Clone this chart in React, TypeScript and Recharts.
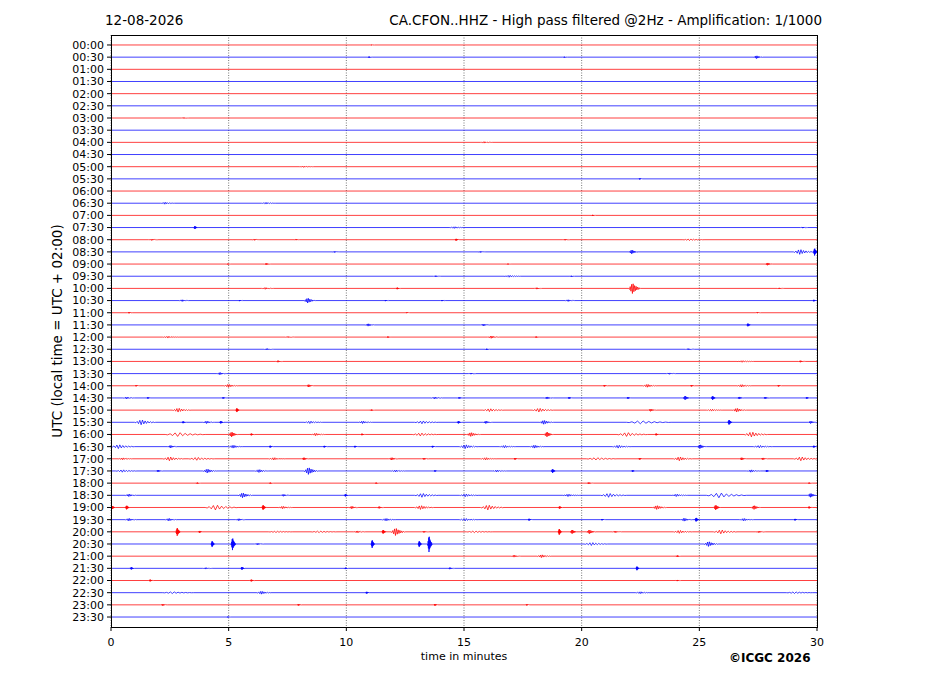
import React from 'react';
import { LineChart, Line, XAxis, YAxis, CartesianGrid } from 'recharts';

// half-hour rows of the helicorder, top to bottom
const ROW_LABELS = [
  '00:00', '00:30', '01:00', '01:30', '02:00', '02:30', '03:00', '03:30',
  '04:00', '04:30', '05:00', '05:30', '06:00', '06:30', '07:00', '07:30',
  '08:00', '08:30', '09:00', '09:30', '10:00', '10:30', '11:00', '11:30',
  '12:00', '12:30', '13:00', '13:30', '14:00', '14:30', '15:00', '15:30',
  '16:00', '16:30', '17:00', '17:30', '18:00', '18:30', '19:00', '19:30',
  '20:00', '20:30', '21:00', '21:30', '22:00', '22:30', '23:00', '23:30',
];

const MINUTE_TICKS = [0, 5, 10, 15, 20, 25, 30];

const TRACE_COLORS = ['#ff0000', '#0000ff'];

// wiggle drawn for every burst (sharp onset, slow decay), scaled by its amplitude
const WIGGLE = [0, 0.2, -0.35, 0.55, -0.8, 1, -0.9, 0.65, -0.55, 0.45, -0.4, 0.3, -0.25, 0.2, -0.15, 0.1, 0];

// bursts per row: [start minute, end minute, amplitude in row heights]
const BURSTS: number[][][] = [
  [[11.0, 11.2, 0.03]],
  [[10.9, 11.1, 0.05], [19.2, 19.4, 0.04], [27.3, 27.7, 0.12]],
  [],
  [],
  [],
  [],
  [[3.0, 3.3, 0.04]],
  [],
  [[15.7, 16.2, 0.06]],
  [],
  [[8.0, 8.6, 0.06]],
  [[22.4, 22.6, 0.05]],
  [],
  [[2.1, 2.7, 0.08], [6.4, 7.0, 0.07]],
  [[20.4, 20.6, 0.05]],
  [[3.5, 3.7, 0.12], [14.4, 15.0, 0.07], [29.3, 29.6, 0.05]],
  [[1.6, 2.0, 0.06], [6.0, 6.3, 0.05], [7.8, 8.0, 0.04], [14.6, 14.8, 0.08], [19.2, 19.5, 0.05], [24.3, 25.2, 0.07]],
  [[9.4, 9.7, 0.05], [15.6, 15.9, 0.05], [22.0, 22.4, 0.16], [29.0, 29.85, 0.2], [29.85, 30, 0.3]],
  [[4.9, 5.1, 0.04], [6.5, 6.8, 0.07], [16.8, 17.0, 0.04], [27.8, 28.1, 0.1]],
  [[13.7, 14.0, 0.05], [16.7, 17.4, 0.08], [19.5, 19.7, 0.04]],
  [[6.4, 6.9, 0.07], [12.1, 12.3, 0.07], [18.0, 18.3, 0.06], [22.0, 22.5, 0.42], [28.3, 28.6, 0.05]],
  [[2.9, 3.3, 0.07], [5.4, 5.6, 0.05], [8.2, 8.7, 0.2], [11.6, 11.8, 0.05], [14.0, 14.2, 0.05], [19.3, 19.7, 0.07], [29.8, 30, 0.07]],
  [[0.7, 0.9, 0.05], [12.5, 12.7, 0.04], [27.4, 27.6, 0.04]],
  [[10.8, 11.2, 0.1], [15.7, 16.1, 0.08], [27.0, 27.2, 0.12]],
  [[2.2, 2.9, 0.08], [7.4, 7.8, 0.05], [11.7, 11.9, 0.05], [16.0, 16.5, 0.1], [18.0, 18.2, 0.05]],
  [[6.5, 6.9, 0.06], [15.9, 16.1, 0.05], [24.4, 24.8, 0.06]],
  [[7.0, 7.3, 0.07], [26.6, 27.3, 0.07], [29.2, 29.5, 0.07]],
  [[4.5, 4.9, 0.09], [15.2, 15.5, 0.05], [23.6, 24.0, 0.06]],
  [[1.0, 1.2, 0.05], [4.8, 5.4, 0.12], [8.3, 8.6, 0.1], [20.9, 21.1, 0.06], [22.6, 23.2, 0.12], [24.6, 24.8, 0.06], [26.6, 27.2, 0.1], [28.3, 28.5, 0.06]],
  [[0.5, 1.0, 0.08], [1.5, 1.7, 0.06], [4.7, 4.9, 0.06], [13.6, 14.1, 0.08], [14.7, 15.0, 0.07], [18.4, 18.8, 0.09], [19.4, 19.6, 0.07], [21.9, 22.1, 0.07], [24.3, 24.6, 0.16], [25.5, 25.7, 0.16], [26.6, 26.9, 0.09], [27.7, 28.0, 0.08], [29.5, 29.7, 0.07]],
  [[2.6, 3.4, 0.16], [5.3, 5.45, 0.16], [11.0, 11.2, 0.05], [15.8, 16.7, 0.12], [17.9, 18.8, 0.15], [22.8, 23.2, 0.1], [25.3, 26.0, 0.08], [26.4, 27.0, 0.15]],
  [[1.0, 1.9, 0.2], [3.0, 3.2, 0.08], [3.9, 4.4, 0.1], [4.6, 4.8, 0.1], [8.2, 9.0, 0.1], [10.5, 11.1, 0.1], [12.9, 13.9, 0.12], [14.7, 14.9, 0.1], [15.8, 16.2, 0.1], [18.2, 18.8, 0.16], [21.9, 23.8, 0.12], [26.2, 26.4, 0.2], [29.6, 30, 0.1]],
  [[2.3, 4.0, 0.16], [5.0, 5.4, 0.2], [5.9, 6.1, 0.08], [8.5, 9.1, 0.1], [10.6, 10.8, 0.07], [12.8, 13.9, 0.12], [15.1, 15.7, 0.16], [18.4, 18.8, 0.2], [21.5, 22.8, 0.16], [23.1, 23.3, 0.08], [26.9, 27.9, 0.2]],
  [[0, 1.0, 0.16], [2.4, 2.8, 0.1], [5.0, 5.6, 0.12], [6.7, 6.9, 0.08], [9.0, 9.2, 0.07], [10.3, 10.5, 0.07], [13.6, 13.8, 0.07], [14.8, 15.6, 0.16], [16.5, 17.2, 0.1], [17.8, 18.4, 0.12], [21.3, 22.1, 0.12], [24.9, 25.3, 0.16], [27.3, 28.1, 0.1], [29.8, 30, 0.08]],
  [[0.3, 0.9, 0.08], [2.2, 3.1, 0.16], [3.3, 4.4, 0.12], [6.7, 7.4, 0.1], [8.1, 8.4, 0.1], [11.8, 12.2, 0.1], [13.2, 13.5, 0.07], [15.7, 16.4, 0.1], [17.1, 17.3, 0.07], [20.2, 21.5, 0.1], [22.4, 22.6, 0.07], [23.9, 24.7, 0.16], [26.7, 27.0, 0.1], [27.6, 27.9, 0.08], [29.0, 30, 0.16]],
  [[0.2, 1.1, 0.1], [1.9, 2.2, 0.08], [3.9, 4.5, 0.16], [6.1, 6.7, 0.12], [8.2, 8.8, 0.28], [11.9, 12.5, 0.08], [13.7, 13.9, 0.06], [16.2, 16.8, 0.08], [18.7, 18.9, 0.16], [22.1, 22.3, 0.07], [27.0, 27.6, 0.1], [27.8, 28.0, 0.08]],
  [[3.6, 3.8, 0.05], [6.7, 6.9, 0.05], [11.2, 11.4, 0.05], [20.2, 20.5, 0.07], [29.6, 29.8, 0.05]],
  [[0.6, 1.1, 0.1], [5.4, 6.0, 0.2], [7.2, 7.6, 0.08], [9.9, 10.1, 0.1], [12.9, 13.9, 0.16], [14.8, 15.6, 0.12], [19.2, 19.9, 0.1], [20.8, 21.9, 0.16], [23.8, 24.5, 0.1], [25.3, 27.0, 0.2], [29.6, 30, 0.16]],
  [[0, 0.2, 0.12], [0.6, 0.8, 0.16], [4.0, 5.4, 0.2], [6.4, 6.6, 0.2], [7.1, 7.7, 0.1], [10.1, 10.5, 0.1], [11.3, 11.6, 0.08], [12.9, 13.7, 0.16], [15.7, 16.7, 0.2], [19.0, 19.2, 0.1], [23.0, 23.6, 0.16], [25.6, 25.9, 0.2], [27.2, 27.6, 0.16], [29.6, 29.8, 0.08]],
  [[0.6, 1.1, 0.1], [2.3, 2.8, 0.1], [5.3, 5.7, 0.08], [11.5, 12.1, 0.1], [14.8, 15.6, 0.1], [17.7, 17.9, 0.08], [20.8, 21.0, 0.06], [24.2, 24.7, 0.12], [24.8, 25.0, 0.16], [26.7, 27.3, 0.1], [29.0, 29.2, 0.07]],
  [[2.75, 2.95, 0.33], [3.7, 3.9, 0.08], [6.7, 7.7, 0.07], [8.5, 9.6, 0.07], [10.3, 10.8, 0.08], [11.5, 11.7, 0.16], [11.9, 12.5, 0.3], [13.2, 13.5, 0.06], [15.1, 16.2, 0.07], [19.0, 19.15, 0.25], [19.5, 19.8, 0.16], [20.2, 20.6, 0.16], [21.3, 21.7, 0.07], [23.9, 24.7, 0.12], [25.6, 26.6, 0.16], [27.4, 27.8, 0.07]],
  [[4.25, 4.4, 0.25], [5.1, 5.3, 0.5], [6.1, 6.5, 0.07], [11.05, 11.2, 0.33], [13.05, 13.2, 0.25], [13.45, 13.65, 0.66], [20.1, 21.1, 0.12], [25.2, 25.8, 0.2]],
  [[17.0, 17.4, 0.08], [18.1, 18.7, 0.12], [24.0, 24.2, 0.06]],
  [[0.8, 1.0, 0.1], [3.9, 4.3, 0.06], [5.5, 5.7, 0.12], [9.9, 10.1, 0.06], [14.3, 14.6, 0.07], [22.3, 22.45, 0.16]],
  [[1.6, 1.8, 0.08], [5.9, 6.1, 0.08], [24.0, 24.2, 0.05]],
  [[2.2, 3.5, 0.07], [6.2, 6.8, 0.12], [10.8, 11.0, 0.08], [22.3, 22.9, 0.08], [28.7, 29.8, 0.07]],
  [[2.1, 2.4, 0.07], [7.9, 8.1, 0.06], [13.7, 13.9, 0.07], [17.6, 17.8, 0.05]],
  [[4.9, 5.1, 0.04]],
];

const rowIndex = ROW_LABELS.map((_, i) => i);

// one series per row, offset by its row number
const traces = BURSTS.map((bursts, row) => {
  const pts: { t: number; v: number }[] = [{ t: 0, v: row }];
  bursts.forEach(([start, end, amp]) => {
    WIGGLE.forEach((w, k) => {
      pts.push({ t: start + ((end - start) * k) / (WIGGLE.length - 1), v: row + amp * w });
    });
  });
  pts.push({ t: 30, v: row });
  return pts;
});

const FONT = '"DejaVu Sans", sans-serif';

export default function App() {
  return (
    <div style={{ position: 'absolute', left: 0, top: 0, width: 927, height: 696, background: '#fff', fontFamily: FONT }}>
      <LineChart width={927} height={696} margin={{ top: 35, right: 110, left: 51, bottom: 39 }}>
        <CartesianGrid horizontal={false} stroke="#555" strokeDasharray="1 1.5" strokeWidth={0.8} />
        <XAxis
          type="number"
          dataKey="t"
          domain={[0, 30]}
          ticks={MINUTE_TICKS}
          axisLine={false}
          tickLine={{ stroke: '#000' }}
          tickSize={4}
          tickMargin={7}
          height={30}
          tick={{ fontSize: 11, fill: '#000', fontFamily: FONT }}
        />
        <YAxis
          type="number"
          domain={[-0.82, 47.82]}
          reversed
          allowDataOverflow
          ticks={rowIndex}
          interval={0}
          tickFormatter={(i: number) => ROW_LABELS[i]}
          axisLine={false}
          tickLine={{ stroke: '#000' }}
          tickSize={4}
          tickMargin={3}
          width={60}
          tick={{ fontSize: 11, fill: '#000', fontFamily: FONT }}
        />
        {traces.map((pts, i) => (
          <Line
            key={ROW_LABELS[i]}
            data={pts}
            dataKey="v"
            type="linear"
            stroke={TRACE_COLORS[i % 2]}
            strokeOpacity={0.75}
            strokeWidth={1}
            dot={false}
            isAnimationActive={false}
          />
        ))}
      </LineChart>
      <div style={{ position: 'absolute', left: 111, top: 35, width: 707, height: 593, boxSizing: 'border-box', border: '1px solid #000', pointerEvents: 'none' }} />
      <div style={{ position: 'absolute', left: 105, top: 12, fontSize: 13.5 }}>12-08-2026</div>
      <div style={{ position: 'absolute', right: 105, top: 12, fontSize: 13.5, whiteSpace: 'nowrap' }}>
        CA.CFON..HHZ - High pass filtered @2Hz - Amplification: 1/1000
      </div>
      <div style={{ position: 'absolute', left: 464, top: 650, fontSize: 11, transform: 'translateX(-50%)', whiteSpace: 'nowrap' }}>
        time in minutes
      </div>
      <div style={{ position: 'absolute', left: 57, top: 331, fontSize: 13.5, whiteSpace: 'nowrap', transform: 'translate(-50%, -50%) rotate(-90deg)' }}>
        UTC (local time = UTC + 02:00)
      </div>
      <div style={{ position: 'absolute', left: 729, top: 651, fontSize: 12, fontWeight: 'bold', whiteSpace: 'nowrap' }}>
        ©ICGC 2026
      </div>
    </div>
  );
}
